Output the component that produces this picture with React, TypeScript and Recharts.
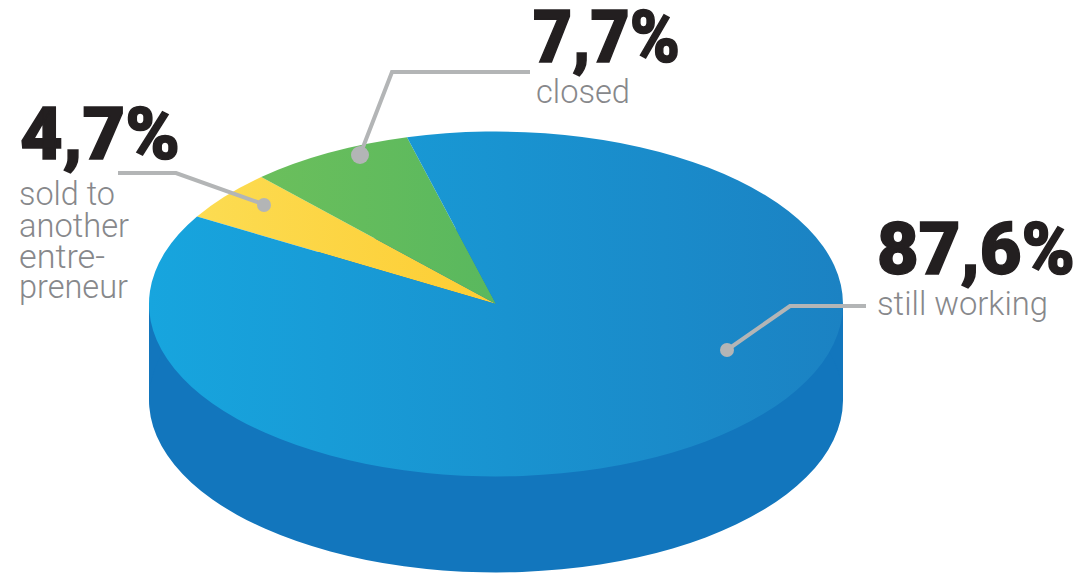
import { PieChart, Pie, Sector, Cell } from "recharts";

const categories = ["sold to another entrepreneur", "closed", "still working"];
const shares = [4.7, 7.7, 87.6];
const sliceFills = ["url(#yellowTop)", "url(#greenTop)", "url(#blueTop)"];

const WIDTH = 1077;
const HEIGHT = 575;
const SQUASH = 0.497;
const DEPTH = 96;
const START_ANGLE = 149.5;
const SIDE_COLOR = "#1276bd";
const LEADER_COLOR = "#b3b5b6";

const pieData = categories.map((name, i) => ({ name, value: shares[i] }));

// circle -> ellipse, the pie is tilted back
function tilt(cx: number, cy: number, shift = 0) {
  return `translate(${cx} ${cy + shift}) scale(1 ${SQUASH}) translate(${-cx} ${-cy})`;
}

function TopSlice(props: any) {
  return (
    <g transform={tilt(props.cx, props.cy)}>
      <Sector {...props} stroke="none" />
    </g>
  );
}

function SideSlice(props: any) {
  const { cx, cy, outerRadius } = props;
  return (
    <g>
      <rect
        x={cx - outerRadius}
        y={cy}
        width={outerRadius * 2}
        height={DEPTH}
        fill={SIDE_COLOR}
      />
      <g transform={tilt(cx, cy, DEPTH)}>
        <Sector {...props} fill={SIDE_COLOR} stroke="none" />
      </g>
    </g>
  );
}

const bigText = {
  fontFamily: "Roboto",
  fontWeight: 900,
  fontSize: 73,
  fill: "#231f20",
  stroke: "#231f20",
  strokeWidth: 1.5,
  lengthAdjust: "spacingAndGlyphs" as const,
};
const smallText = {
  fontFamily: "Roboto",
  fontWeight: 300,
  fontSize: 34,
  fill: "#87888b",
  lengthAdjust: "spacingAndGlyphs" as const,
};

function Annotations() {
  return (
    <svg
      width={WIDTH}
      height={HEIGHT}
      style={{ position: "absolute", left: 0, top: 0 }}
    >
      {/* leader lines */}
      <polyline points="118,173 176,173 263,204" fill="none" stroke={LEADER_COLOR} strokeWidth={4} />
      <circle cx={264} cy={205} r={7} fill={LEADER_COLOR} />
      <polyline points="530,72 392,72 360,155" fill="none" stroke={LEADER_COLOR} strokeWidth={4} />
      <circle cx={360} cy={155} r={9} fill={LEADER_COLOR} />
      <polyline points="866,306 790,306 727,350" fill="none" stroke={LEADER_COLOR} strokeWidth={4} />
      <circle cx={727} cy={350} r={7} fill={LEADER_COLOR} />

      <text x={20} y={159} textLength={160} {...bigText}>4,7%</text>
      <text x={19} y={205} textLength={96} {...smallText}>sold to</text>
      <text x={19} y={237} textLength={110} {...smallText}>another</text>
      <text x={19} y={268} textLength={86} {...smallText}>entre-</text>
      <text x={19} y={298} textLength={109} {...smallText}>preneur</text>

      <text x={533} y={62} textLength={147} {...bigText}>7,7%</text>
      <text x={536} y={103} textLength={94} {...smallText}>closed</text>

      <text x={877} y={274} textLength={198} {...bigText}>87,6%</text>
      <text x={877} y={315} textLength={171} {...smallText}>still working</text>
    </svg>
  );
}

export default function App() {
  return (
    <div style={{ position: "absolute", left: 0, top: 0, width: WIDTH, height: HEIGHT, background: "#fff" }}>
      <PieChart width={WIDTH} height={HEIGHT} margin={{ top: 0, right: 0, bottom: 0, left: 0 }}>
        <defs>
          <linearGradient id="blueTop" x1="0" y1="0" x2="1" y2="0">
            <stop offset="0%" stopColor="#17a5de" />
            <stop offset="100%" stopColor="#1b82c3" />
          </linearGradient>
          <linearGradient id="greenTop" x1="0" y1="0" x2="1" y2="0">
            <stop offset="0%" stopColor="#6bbf5c" />
            <stop offset="100%" stopColor="#59b85e" />
          </linearGradient>
          <linearGradient id="yellowTop" x1="0" y1="0" x2="1" y2="0">
            <stop offset="0%" stopColor="#fcdc52" />
            <stop offset="100%" stopColor="#fdcd33" />
          </linearGradient>
        </defs>
        {/* side wall */}
        <Pie
          data={pieData}
          dataKey="value"
          cx={496}
          cy={304}
          outerRadius={347}
          startAngle={START_ANGLE}
          endAngle={START_ANGLE - 360}
          stroke="none"
          shape={SideSlice}
          isAnimationActive={false}
        />
        {/* top face */}
        <Pie
          data={pieData}
          dataKey="value"
          cx={496}
          cy={304}
          outerRadius={347}
          startAngle={START_ANGLE}
          endAngle={START_ANGLE - 360}
          stroke="none"
          shape={TopSlice}
          isAnimationActive={false}
        >
          {pieData.map((d, i) => (
            <Cell key={d.name} fill={sliceFills[i]} />
          ))}
        </Pie>
      </PieChart>
      <Annotations />
    </div>
  );
}
